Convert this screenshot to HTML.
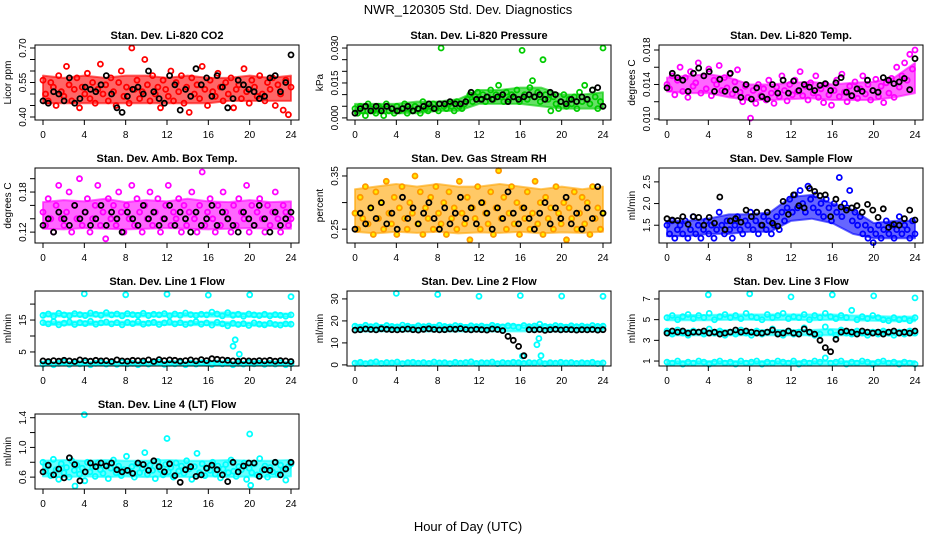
<!DOCTYPE html>
<html><head><meta charset="utf-8"><style>
html,body{margin:0;padding:0;background:#fff;}
svg{display:block;font-family:"Liberation Sans",sans-serif;}
</style></head><body>
<svg id="chart" width="936" height="540" viewBox="0 0 936 540" xmlns="http://www.w3.org/2000/svg">
<rect x="0" y="0" width="936" height="540" fill="#fff"/>
<text x="468" y="14" text-anchor="middle" font-size="13">NWR_120305  Std. Dev. Diagnostics</text>
<text x="468" y="531" text-anchor="middle" font-size="13">Hour of Day (UTC)</text>
</svg>
<script>
const co2Main=[0.56,0.50,0.47,0.55,0.53,0.45,0.58,0.51,0.49,0.62,0.54,0.47,0.52,0.57,0.44,0.53,0.50,0.59,0.48,0.55,0.46,0.52,0.63,0.50,0.54,0.47,0.57,0.51,0.45,0.55,0.60,0.49,0.53,0.46,0.70,0.52,0.56,0.48,0.51,0.65,0.54,0.47,0.58,0.50,0.53,0.44,0.56,0.52,0.49,0.60,0.47,0.55,0.51,0.58,0.46,0.53,0.42,0.57,0.50,0.54,0.48,0.62,0.52,0.45,0.56,0.51,0.49,0.59,0.53,0.47,0.55,0.50,0.57,0.44,0.52,0.54,0.48,0.61,0.51,0.46,0.56,0.53,0.49,0.58,0.50,0.47,0.55,0.52,0.57,0.45,0.54,0.50,0.43,0.56,0.41,0.53];
const co2Black=[0.47,0.46,0.51,0.50,0.47,0.57,0.46,0.48,0.53,0.52,0.51,0.54,0.58,0.50,0.44,0.42,0.49,0.52,0.53,0.50,0.60,0.51,0.48,0.46,0.58,0.54,0.43,0.52,0.49,0.61,0.54,0.57,0.49,0.58,0.53,0.44,0.48,0.56,0.54,0.52,0.51,0.48,0.49,0.57,0.58,0.51,0.55,0.67];
const co2BandLo=[0.46,0.46,0.46,0.46,0.46,0.46,0.46,0.46,0.46,0.47,0.47,0.47,0.47];
const co2BandHi=[0.58,0.57,0.58,0.57,0.58,0.58,0.57,0.58,0.57,0.57,0.58,0.57,0.58];
const presMain=[0.004,0.002,0.005,0.003,0.001,0.006,0.004,0.003,0.002,0.005,0.004,0.001,0.006,0.003,0.004,0.002,0.005,0.003,0.004,0.006,0.002,0.004,0.003,0.005,0.004,0.002,0.007,0.004,0.003,0.005,0.006,0.004,0.003,0.030,0.005,0.004,0.006,0.005,0.003,0.007,0.005,0.004,0.006,0.008,0.010,0.007,0.009,0.011,0.008,0.010,0.007,0.009,0.012,0.008,0.010,0.014,0.009,0.007,0.011,0.008,0.010,0.009,0.012,0.007,0.029,0.010,0.008,0.013,0.016,0.009,0.011,0.007,0.025,0.010,0.008,0.003,0.009,0.006,0.004,0.007,0.010,0.005,0.008,0.006,0.009,0.004,0.011,0.007,0.014,0.008,0.006,0.012,0.009,0.004,0.007,0.030];
const presBlack=[0.002,0.004,0.005,0.003,0.005,0.003,0.005,0.004,0.003,0.004,0.005,0.003,0.004,0.005,0.006,0.004,0.006,0.006,0.007,0.006,0.006,0.007,0.011,0.008,0.008,0.009,0.008,0.009,0.010,0.007,0.009,0.008,0.009,0.010,0.009,0.010,0.008,0.011,0.010,0.007,0.006,0.008,0.007,0.009,0.008,0.012,0.013,0.005];
const presBandLo=[0.002,0.002,0.002,0.002,0.003,0.003,0.006,0.006,0.006,0.005,0.004,0.004,0.004];
const presBandHi=[0.006,0.006,0.006,0.007,0.007,0.008,0.012,0.012,0.013,0.013,0.010,0.010,0.011];
const tempMain=[0.0140,0.0135,0.0150,0.0128,0.0145,0.0160,0.0132,0.0148,0.0125,0.0155,0.0138,0.0142,0.0165,0.0130,0.0150,0.0135,0.0158,0.0127,0.0145,0.0140,0.0162,0.0133,0.0148,0.0136,0.0152,0.0129,0.0143,0.0157,0.0131,0.0120,0.0138,0.0125,0.0101,0.0133,0.0118,0.0140,0.0127,0.0135,0.0122,0.0145,0.0130,0.0118,0.0137,0.0126,0.0150,0.0133,0.0121,0.0140,0.0128,0.0145,0.0132,0.0155,0.0127,0.0138,0.0122,0.0142,0.0130,0.0150,0.0125,0.0135,0.0119,0.0140,0.0128,0.0116,0.0133,0.0145,0.0126,0.0152,0.0131,0.0120,0.0138,0.0127,0.0143,0.0124,0.0135,0.0150,0.0129,0.0140,0.0122,0.0133,0.0146,0.0126,0.0138,0.0119,0.0142,0.0130,0.0147,0.0125,0.0160,0.0137,0.0150,0.0165,0.0145,0.0175,0.0158,0.0180];
const tempBlack=[0.0136,0.0153,0.0148,0.0145,0.0132,0.0153,0.0159,0.0150,0.0155,0.0132,0.0146,0.0132,0.0153,0.0134,0.0125,0.0140,0.0123,0.0136,0.0126,0.0123,0.0140,0.0130,0.0145,0.0130,0.0144,0.0133,0.0140,0.0137,0.0133,0.0139,0.0141,0.0133,0.0142,0.0148,0.0131,0.0127,0.0135,0.0132,0.0145,0.0133,0.0131,0.0148,0.0145,0.0141,0.0143,0.0147,0.0134,0.0170];
const tempBandLo=[0.0132,0.0130,0.0130,0.0125,0.0122,0.0122,0.0123,0.0124,0.0122,0.0122,0.0122,0.0125,0.0130];
const tempBandHi=[0.0148,0.0150,0.0152,0.0148,0.0140,0.0140,0.0142,0.0143,0.0140,0.0142,0.0143,0.0148,0.0165];
const ambMain=[0.15,0.13,0.17,0.14,0.12,0.16,0.19,0.14,0.13,0.15,0.18,0.12,0.16,0.14,0.20,0.13,0.15,0.17,0.12,0.14,0.16,0.19,0.13,0.15,0.11,0.17,0.14,0.16,0.13,0.18,0.15,0.12,0.16,0.14,0.19,0.13,0.17,0.15,0.12,0.16,0.14,0.18,0.13,0.15,0.17,0.12,0.14,0.16,0.19,0.13,0.15,0.14,0.17,0.12,0.16,0.13,0.15,0.18,0.14,0.12,0.16,0.21,0.13,0.15,0.17,0.14,0.12,0.16,0.13,0.18,0.15,0.14,0.12,0.16,0.13,0.17,0.15,0.14,0.19,0.12,0.16,0.13,0.15,0.17,0.14,0.12,0.16,0.13,0.15,0.18,0.14,0.12,0.16,0.15,0.13,0.14];
const ambBlack=[0.13,0.14,0.12,0.15,0.14,0.13,0.16,0.14,0.15,0.13,0.14,0.16,0.13,0.15,0.14,0.12,0.15,0.14,0.13,0.16,0.14,0.15,0.13,0.14,0.16,0.13,0.15,0.14,0.12,0.15,0.13,0.14,0.16,0.13,0.15,0.14,0.13,0.12,0.15,0.14,0.13,0.16,0.14,0.12,0.15,0.13,0.14,0.15];
const ambBandLo=[0.125,0.124,0.126,0.125,0.124,0.125,0.126,0.125,0.124,0.125,0.126,0.125,0.125];
const ambBandHi=[0.165,0.168,0.166,0.170,0.165,0.168,0.166,0.170,0.166,0.165,0.168,0.165,0.166];
const rhMain=[0.28,0.25,0.31,0.27,0.33,0.26,0.29,0.24,0.32,0.27,0.30,0.25,0.34,0.28,0.26,0.31,0.24,0.29,0.33,0.27,0.25,0.30,0.28,0.35,0.26,0.32,0.24,0.29,0.27,0.31,0.25,0.33,0.28,0.26,0.30,0.24,0.32,0.27,0.29,0.25,0.34,0.28,0.26,0.31,0.23,0.29,0.27,0.33,0.25,0.30,0.28,0.26,0.32,0.24,0.29,0.36,0.27,0.31,0.25,0.28,0.33,0.26,0.30,0.24,0.29,0.27,0.32,0.25,0.28,0.34,0.26,0.30,0.24,0.31,0.27,0.29,0.25,0.33,0.28,0.26,0.30,0.23,0.29,0.27,0.32,0.25,0.28,0.31,0.26,0.30,0.24,0.33,0.27,0.29,0.25,0.28];
const rhBlack=[0.25,0.28,0.26,0.29,0.27,0.30,0.26,0.28,0.25,0.31,0.27,0.29,0.26,0.28,0.30,0.27,0.25,0.29,0.26,0.28,0.31,0.27,0.29,0.26,0.30,0.28,0.25,0.29,0.27,0.32,0.28,0.26,0.29,0.27,0.25,0.28,0.30,0.26,0.29,0.27,0.31,0.26,0.28,0.25,0.29,0.27,0.33,0.28];
const rhBandLo=[0.245,0.242,0.245,0.243,0.245,0.242,0.244,0.243,0.245,0.242,0.244,0.243,0.245];
const rhBandHi=[0.325,0.330,0.335,0.330,0.335,0.330,0.330,0.335,0.330,0.325,0.330,0.325,0.330];
const flowMain=[1.5,1.3,1.6,1.2,1.4,1.5,1.3,1.6,1.2,1.4,1.7,1.3,1.5,1.2,1.4,1.6,1.3,1.5,1.2,1.4,1.8,1.5,1.3,1.6,1.4,1.2,1.5,1.7,1.4,1.3,1.6,1.5,1.8,1.4,1.6,1.3,1.5,1.7,1.4,1.6,1.3,1.5,1.7,1.4,1.8,1.6,1.9,2.1,1.8,2.2,1.9,2.3,2.0,1.8,2.4,2.1,1.9,2.2,1.8,2.0,1.7,2.1,1.9,1.6,2.0,1.8,2.6,1.7,2.0,1.9,2.3,1.6,1.8,1.5,1.7,1.3,1.5,1.2,1.4,1.1,1.3,1.5,1.2,1.4,1.6,1.3,1.5,1.2,1.4,1.7,1.3,1.5,1.4,1.2,1.6,1.3];
const flowBlack=[1.65,1.62,1.61,1.70,1.52,1.70,1.68,1.50,1.68,1.55,2.15,1.40,1.60,1.65,1.57,1.85,1.70,1.80,1.50,1.80,1.55,1.48,2.05,1.75,2.20,1.95,1.90,2.35,2.28,2.18,2.20,1.70,2.10,1.92,1.85,1.90,1.95,1.80,1.98,1.85,1.68,1.88,1.45,1.52,1.50,1.65,1.85,1.62];
const flowBandLo=[1.25,1.25,1.3,1.3,1.35,1.35,1.6,1.65,1.55,1.3,1.2,1.2,1.2];
const flowBandHi=[1.6,1.6,1.65,1.75,1.75,1.8,2.15,2.2,2.0,1.85,1.55,1.6,1.6];
const l1Upper=[16.5,16.9,16.2,17.1,16.6,16.3,17.0,16.7,16.4,17.2,16.8,16.5,17.3,16.6,16.9,16.3,17.0,16.7,16.5,17.1,16.4,16.8,16.6,17.0,16.3,16.9,16.5,17.2,16.7,16.4,16.8,16.6,17.5,16.9,16.3,17.3,16.5,16.8,16.2,16.9,16.6,16.4,16.8,16.3,16.7,16.5,16.2,16.6];
const l1Lower=[14.2,13.8,14.5,13.5,14.0,14.4,13.6,14.2,13.9,14.6,13.7,14.1,14.4,13.8,14.2,13.5,14.3,13.9,14.5,13.7,14.0,14.3,13.6,14.1,14.4,13.8,14.2,13.6,14.0,14.5,13.7,14.1,13.4,14.3,13.8,13.2,14.0,13.6,13.9,13.3,14.1,13.7,13.5,14.0,13.6,13.4,13.8,13.7];
const l1Low=[1.2,1.6,1.0,1.4,1.8,1.1,1.5,1.3,1.7,1.0,1.4,1.6,1.2,1.5,1.1,1.7,1.3,1.4,1.0,1.6,1.2,1.5,1.8,1.1,1.4,1.3,1.7,1.0,1.5,1.2,1.6,1.4,1.1,1.5,1.3,1.7,1.0,1.4,1.2,1.6,1.3,1.5,1.1,1.4,1.2,1.6,1.0,1.3];
const l1Black=[2.2,2.0,2.3,2.1,2.4,2.2,2.0,2.5,2.3,2.1,2.4,2.2,2.3,2.0,2.5,2.2,2.1,2.4,2.3,2.2,2.5,2.0,2.6,2.3,2.5,2.4,2.1,2.3,2.5,2.2,2.6,2.3,2.9,2.7,2.5,2.4,2.2,2.1,2.3,2.2,2.1,2.3,2.2,2.4,2.1,2.3,2.2,2.0];
const l1OutHours=[4,8,12,16,20,24,18.4,18.6,19.0];
const l1OutVals=[23.2,22.9,23.1,22.8,22.9,22.3,6.8,8.8,4.3];
const l1BandUpLo=[16.1,16.1,16.1,16.1,16.1,16.1,16.1,16.1,16.1,16.0,16.0,16.0,16.0];
const l1BandUpHi=[17.1,17.2,17.2,17.3,17.2,17.2,17.1,17.2,17.2,17.4,17.1,17.1,17.0];
const l1BandLoLo=[13.5,13.4,13.4,13.5,13.4,13.4,13.5,13.4,13.4,13.2,13.2,13.2,13.2];
const l1BandLoHi=[14.5,14.5,14.6,14.5,14.5,14.5,14.5,14.5,14.5,14.3,14.2,14.2,14.2];
const l1BandBotLo=[0.9,0.9,0.9,0.9,0.9,0.9,0.9,0.9,0.9,0.9,0.9,0.9,0.9];
const l1BandBotHi=[1.7,1.7,1.7,1.7,1.7,1.7,1.7,1.7,1.7,1.7,1.7,1.7,1.7];
const l2Upper=[17.6,17.2,18.0,17.4,17.8,17.1,17.9,17.5,17.3,18.1,17.6,17.0,17.8,17.4,17.7,17.2,18.0,17.5,17.3,17.9,17.6,17.1,17.8,17.4,17.7,17.2,18.0,17.5,17.3,17.8,17.6,17.1,17.9,17.4,17.7,18.5,17.5,17.3,17.9,17.6,17.2,17.8,17.4,17.7,17.3,17.9,17.5,17.6];
const l2Low=[0.8,1.2,0.6,1.0,1.4,0.7,1.1,0.9,1.3,0.6,1.0,1.2,0.8,1.1,0.7,1.3,0.9,1.0,0.6,1.2,0.8,1.1,1.4,0.7,1.0,0.9,1.3,0.6,1.1,0.8,1.2,1.0,0.7,1.1,0.9,1.3,0.6,1.0,0.8,1.2,0.9,1.1,0.7,1.0,0.8,1.2,0.6,0.9];
const l2Black=[15.8,16.0,16.3,16.1,15.9,16.4,16.2,16.0,15.9,16.1,16.3,16.0,15.8,16.2,16.4,16.1,15.9,16.0,16.3,16.2,16.5,16.1,15.9,16.2,16.0,15.8,16.3,16.1,15.6,13.0,11.2,8.4,4.2,16.0,15.9,16.1,15.7,16.0,16.2,15.9,16.1,16.0,15.8,16.0,15.9,16.1,15.8,16.0];
const l2OutHours=[4,8,12,16,20,24,16.2,17.6,17.8,18.0];
const l2OutVals=[32.5,32.0,31.2,31.5,31.3,31.2,4.0,9.2,12.0,4.2];
const l2BandUpLo=[15.2,15.2,15.3,15.2,15.2,15.2,15.2,15.2,15.3,15.2,15.2,15.2,15.2];
const l2BandUpHi=[18.2,18.2,18.1,18.2,18.2,18.1,18.2,18.2,18.2,18.1,18.2,18.1,18.1];
const l2BandBotLo=[0.3,0.3,0.3,0.3,0.3,0.3,0.3,0.3,0.3,0.3,0.3,0.3,0.3];
const l2BandBotHi=[1.5,1.5,1.5,1.5,1.5,1.5,1.5,1.5,1.5,1.5,1.5,1.5,1.5];
const l3Upper=[5.2,5.4,5.0,5.3,5.5,5.1,5.4,5.2,5.6,5.0,5.3,5.5,5.2,5.4,5.1,5.6,5.3,5.2,5.0,5.5,5.2,5.4,5.6,5.1,5.3,5.2,5.5,5.0,5.4,5.2,5.6,5.3,5.1,5.4,5.2,5.9,5.0,5.3,5.1,5.4,5.2,5.0,4.9,5.2,5.0,5.1,4.9,5.2];
const l3Mid=[3.9,3.6,4.0,3.7,3.5,3.9,3.8,3.6,4.1,3.7,3.9,3.5,3.8,3.6,4.0,3.7,3.5,3.9,3.6,3.8,4.1,3.7,3.5,3.9,3.6,3.8,4.2,3.7,3.5,3.6,4.3,3.8,3.5,4.0,3.7,3.6,3.9,3.7,3.5,3.8,3.6,3.9,3.7,3.5,3.8,3.6,3.9,3.7];
const l3Low=[0.9,0.8,1.0,0.7,0.9,0.8,1.0,0.9,0.7,0.9,1.0,0.8,0.9,0.7,1.0,0.8,0.9,1.0,0.7,0.9,0.8,1.0,0.9,0.8,1.0,0.7,0.9,0.8,1.0,0.9,1.3,0.8,0.9,1.0,0.7,0.9,0.8,1.0,0.9,0.7,0.9,1.0,0.8,0.9,0.7,0.9,0.8,0.7];
const l3Black=[3.7,3.9,3.8,3.9,3.7,3.8,3.8,3.9,3.7,3.8,3.6,3.7,3.8,4.0,3.8,3.9,3.8,3.7,3.7,3.8,4.0,3.6,3.7,3.9,3.7,3.6,4.1,3.8,3.6,3.0,2.3,1.9,3.1,3.8,3.9,3.8,3.6,3.9,3.8,3.7,3.8,3.6,3.8,3.9,3.7,3.8,3.7,3.9];
const l3OutHours=[4,8,12,16,20,24];
const l3OutVals=[7.4,7.5,7.2,7.4,7.3,7.1];
const l3BandUpLo=[4.95,4.95,4.95,5.0,5.0,4.95,5.0,4.95,5.0,4.95,4.9,4.85,4.85];
const l3BandUpHi=[5.4,5.45,5.45,5.5,5.5,5.5,5.5,5.5,5.5,5.4,5.35,5.3,5.3];
const l3BandMidLo=[3.5,3.5,3.5,3.5,3.5,3.5,3.5,3.5,3.5,3.5,3.5,3.5,3.5];
const l3BandMidHi=[4.0,4.0,4.0,4.0,4.0,4.0,4.0,4.0,4.1,4.0,4.0,4.0,4.0];
const l3BandBotLo=[0.65,0.65,0.65,0.65,0.65,0.65,0.65,0.65,0.65,0.65,0.65,0.65,0.65];
const l3BandBotHi=[1.0,1.0,1.0,1.0,1.0,1.0,1.0,1.0,1.0,1.0,1.0,1.0,1.0];
const l4Main=[0.80,0.68,0.75,0.62,0.84,0.70,0.57,0.78,0.66,0.73,0.60,0.82,0.69,0.76,0.64,0.72,0.55,0.80,0.67,0.74,0.61,0.79,0.70,0.65,0.77,0.58,0.72,0.83,0.66,0.75,0.62,0.70,0.88,0.68,0.74,0.60,0.78,0.66,0.72,0.93,0.64,0.76,0.69,0.58,0.81,0.70,0.63,0.77,0.67,0.73,0.60,0.79,0.68,0.75,0.65,0.82,0.71,0.57,0.74,0.92,0.66,0.78,0.62,0.72,0.69,0.80,0.64,0.75,0.59,0.71,0.77,0.66,0.83,0.68,0.61,0.74,0.70,0.79,0.57,0.72,0.66,0.78,0.63,0.85,0.69,0.75,0.60,0.73,0.67,0.80,0.64,0.76,0.70,0.56,0.74,0.78];
const l4Black=[0.67,0.76,0.63,0.71,0.59,0.86,0.77,0.55,0.67,0.79,0.74,0.79,0.75,0.79,0.70,0.67,0.69,0.65,0.79,0.77,0.69,0.82,0.74,0.67,0.78,0.62,0.53,0.70,0.74,0.61,0.63,0.72,0.76,0.70,0.63,0.54,0.80,0.67,0.75,0.79,0.79,0.61,0.70,0.69,0.80,0.63,0.71,0.80];
const l4OutHours=[4,12,20,3.1,20.1];
const l4OutVals=[1.44,1.12,1.18,0.48,0.49];
const l4BandLo=[0.61,0.60,0.61,0.60,0.61,0.60,0.61,0.60,0.61,0.60,0.61,0.60,0.61];
const l4BandHi=[0.82,0.83,0.82,0.83,0.82,0.82,0.83,0.82,0.82,0.83,0.82,0.82,0.83];

const NS='http://www.w3.org/2000/svg';
const svg=document.getElementById('chart');
function el(tag,attrs,parent){const e=document.createElementNS(NS,tag);for(const k in attrs)e.setAttribute(k,attrs[k]);(parent||svg).appendChild(e);return e;}
const CY='#00ffff';
const panels=[
 {key:'co2',title:'Stan. Dev. Li-820 CO2',ylab:'Licor ppm',col:0,row:0,ymin:0.387,ymax:0.713,ticks:[0.40,0.45,0.50,0.55,0.60,0.65,0.70],labels:['0.40','','','0.55','','','0.70'],
  bands:[{lo:co2BandLo,hi:co2BandHi,c:'#ff0000'}],
  series:[{v:co2Main,c:'#ff0000'},{v:co2Black,c:'#000'}]},
 {key:'pressure',title:'Stan. Dev. Li-820 Pressure',ylab:'kPa',col:1,row:0,ymin:-0.0009,ymax:0.0313,ticks:[0,0.005,0.010,0.015,0.020,0.025,0.030],labels:['0.000','','','0.015','','','0.030'],
  bands:[{lo:presBandLo,hi:presBandHi,c:'#00cc00'}],
  series:[{v:presMain,c:'#00cc00'},{v:presBlack,c:'#000'}]},
 {key:'temp',title:'Stan. Dev. Li-820 Temp.',ylab:'degrees C',col:2,row:0,ymin:0.00988,ymax:0.01858,ticks:[0.010,0.012,0.014,0.016,0.018],labels:['0.010','','0.014','','0.018'],
  bands:[{lo:tempBandLo,hi:tempBandHi,c:'#ff00ff'}],
  series:[{v:tempMain,c:'#ff00ff'},{v:tempBlack,c:'#000'}]},
 {key:'amb',title:'Stan. Dev. Amb. Box Temp.',ylab:'degrees C',col:0,row:1,ymin:0.1037,ymax:0.216,ticks:[0.12,0.14,0.16,0.18,0.20],labels:['0.12','','','0.18',''],
  bands:[{lo:ambBandLo,hi:ambBandHi,c:'#ff00ff'}],
  series:[{v:ambMain,c:'#ff00ff'},{v:ambBlack,c:'#000'}]},
 {key:'rh',title:'Stan. Dev. Gas Stream RH',ylab:'percent',col:1,row:1,ymin:0.224,ymax:0.365,ticks:[0.25,0.30,0.35],labels:['0.25','','0.35'],
  bands:[{lo:rhBandLo,hi:rhBandHi,c:'#ffa500'}],
  series:[{v:rhMain,c:'#ff9900',f:'#ffee00'},{v:rhBlack,c:'#000'}]},
 {key:'flow',title:'Stan. Dev. Sample Flow',ylab:'ml/min',col:2,row:1,ymin:1.09,ymax:2.82,ticks:[1.5,2.0,2.5],labels:['1.5','2.0','2.5'],
  bands:[{lo:flowBandLo,hi:flowBandHi,c:'#0000ff'}],
  series:[{v:flowMain,c:'#0000ff'},{v:flowBlack,c:'#000'}]},
 {key:'line1',title:'Stan. Dev. Line 1 Flow',ylab:'ml/min',col:0,row:2,ymin:0.6,ymax:24.1,ticks:[5,10,15,20],labels:['5','','15',''],
  bands:[{lo:l1BandUpLo,hi:l1BandUpHi,c:CY},{lo:l1BandLoLo,hi:l1BandLoHi,c:CY},{lo:l1BandBotLo,hi:l1BandBotHi,c:CY}],
  series:[{v:l1Upper,c:CY},{v:l1Lower,c:CY},{v:l1Low,c:CY},{h:l1OutHours,v:l1OutVals,c:CY},{v:l1Black,c:'#000'}]},
 {key:'line2',title:'Stan. Dev. Line 2 Flow',ylab:'ml/min',col:1,row:2,ymin:-0.5,ymax:33.6,ticks:[0,10,20,30],labels:['0','10','20','30'],
  bands:[{lo:l2BandUpLo,hi:l2BandUpHi,c:CY},{lo:l2BandBotLo,hi:l2BandBotHi,c:CY}],
  series:[{v:l2Upper,c:CY},{v:l2Low,c:CY},{h:l2OutHours,v:l2OutVals,c:CY},{v:l2Black,c:'#000'}]},
 {key:'line3',title:'Stan. Dev. Line 3 Flow',ylab:'ml/min',col:2,row:2,ymin:0.52,ymax:7.77,ticks:[1,3,5,7],labels:['1','3','5','7'],
  bands:[{lo:l3BandUpLo,hi:l3BandUpHi,c:CY},{lo:l3BandMidLo,hi:l3BandMidHi,c:CY},{lo:l3BandBotLo,hi:l3BandBotHi,c:CY}],
  series:[{v:l3Upper,c:CY},{v:l3Mid,c:CY},{v:l3Low,c:CY},{h:l3OutHours,v:l3OutVals,c:CY},{v:l3Black,c:'#000'}]},
 {key:'line4',title:'Stan. Dev. Line 4 (LT) Flow',ylab:'ml/min',col:0,row:3,ymin:0.44,ymax:1.45,ticks:[0.6,0.8,1.0,1.2,1.4],labels:['0.6','','1.0','','1.4'],
  bands:[{lo:l4BandLo,hi:l4BandHi,c:CY}],
  series:[{v:l4Main,c:CY},{h:l4OutHours,v:l4OutVals,c:CY},{v:l4Black,c:'#000'}]}
];
const colX=[35,347,659], rowY=[45,168,291,414], W=264, H=75;
const xTicks=[0,4,8,12,16,20,24];

panels.forEach(p=>{
  const bx=colX[p.col], by=rowY[p.row];
  const g=el('g',{});
  
  
  const xs=h=>bx+8+h*(W-16)/24;
  const ys=v=>by+H-(v-p.ymin)/(p.ymax-p.ymin)*H;
  const t=el('text',{x:bx+W/2,y:by-6,'text-anchor':'middle','font-size':'11','font-weight':'bold'},g);
  t.textContent=p.title;
  
  
  p.bands.forEach(b=>{
    const n=b.lo.length;
    const top=b.hi.map((v,i)=>`${xs(i*24/(n-1)).toFixed(1)},${ys(v).toFixed(1)}`);
    const bot=b.lo.map((v,i)=>`${xs(i*24/(n-1)).toFixed(1)},${ys(v).toFixed(1)}`).reverse();
    const poly=el('polygon',{points:top.concat(bot).join(' '),fill:b.c,'fill-opacity':0.6,stroke:b.c,'stroke-width':2,'stroke-linejoin':'round','stroke-opacity':0.6},g);
    
    
  });
  const pg=el('g',{},g);
  
  
  p.series.forEach(s=>{
    s.v.forEach((v,i)=>{
      const h=s.h?s.h[i]:i*24/(s.v.length-1);
      const y=ys(v); if(y<by-2||y>by+H+2) return;
      const c=el('circle',{cx:xs(h).toFixed(1),cy:y.toFixed(1),r:2.5,fill:s.f||'none',stroke:s.c,'stroke-width':1.8},pg);
      
      
    });
  });
  const b=el('rect',{x:bx,y:by,width:W,height:H,fill:'none',stroke:'#000','stroke-width':1},g);
  
  
  const xa=el('g',{},g);
  
  
  xTicks.forEach(h=>{
    el('line',{x1:xs(h),x2:xs(h),y1:by+H,y2:by+H+5,stroke:'#000'},xa);
    const tl=el('text',{x:xs(h),y:by+H+18,'text-anchor':'middle','font-size':'10'},xa);
    tl.textContent=h;
  });
  const ya=el('g',{},g);
  
  
  p.ticks.forEach((v,i)=>{
    const y=ys(v); if(y<by-1||y>by+H+1) return;
    el('line',{x1:bx-5,x2:bx,y1:y,y2:y,stroke:'#000'},ya);
    if(p.labels[i]){
      const tl=el('text',{x:bx-9,y:y,'text-anchor':'middle','font-size':'10',transform:`rotate(-90 ${bx-9} ${y})`},ya);
      tl.textContent=p.labels[i];
    }
  });
  const yl=el('text',{x:bx-24,y:by+H/2,'text-anchor':'middle','font-size':'10',transform:`rotate(-90 ${bx-24} ${by+H/2})`},g);
  yl.textContent=p.ylab;
  
  
});
</script>
</body></html>
